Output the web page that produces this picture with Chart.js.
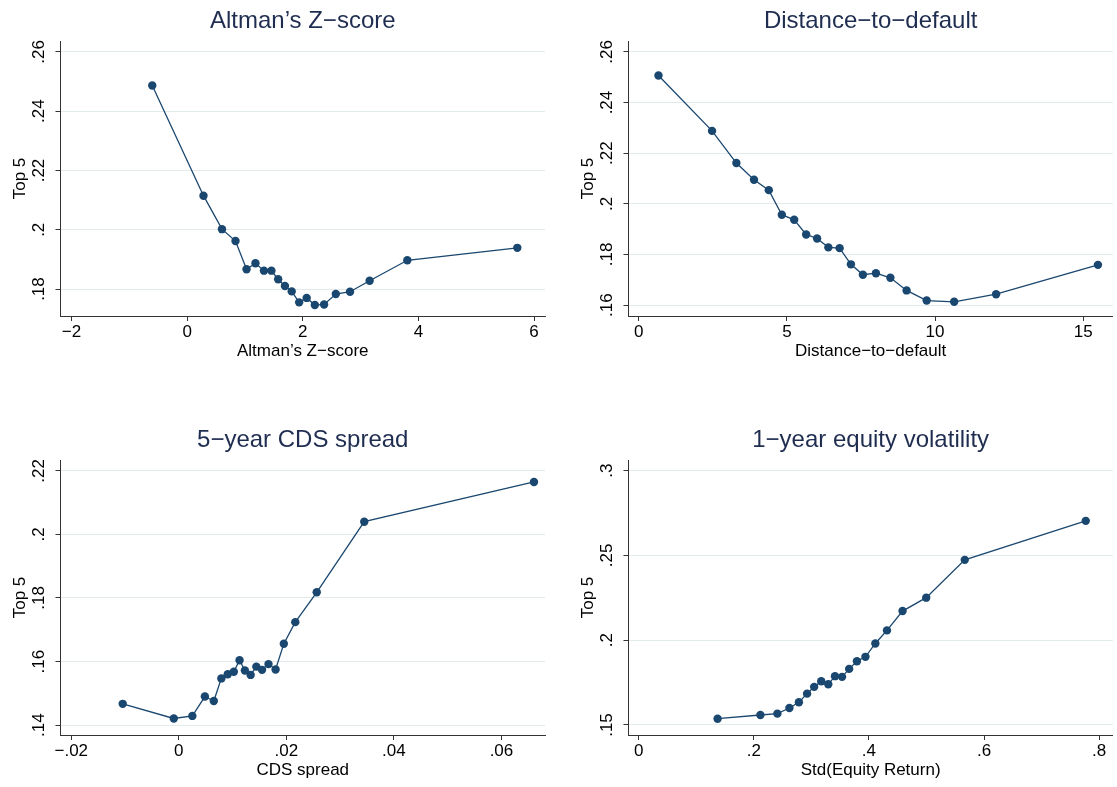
<!DOCTYPE html>
<html>
<head>
<meta charset="utf-8">
<script src="https://cdn.jsdelivr.net/npm/chart.js@4.4.1/dist/chart.umd.min.js"></script>
<style>
  html, body { margin: 0; padding: 0; background: #fff; }
  #wrap { position: relative; width: 1117px; height: 787px; overflow: hidden; }
  #wrap canvas { position: absolute; }
</style>
</head>
<body>
<div id="wrap">
  <canvas id="c1" width="556" height="362" style="left:0;top:0"></canvas>
  <canvas id="c2" width="549" height="362" style="left:568px;top:0"></canvas>
  <canvas id="c3" width="556" height="362" style="left:0;top:419px"></canvas>
  <canvas id="c4" width="549" height="362" style="left:568px;top:419px"></canvas>
</div>
<script>
// Top 5 share by bins of each risk measure
const zX = [-0.603, 0.283, 0.603, 0.837, 1.028, 1.182, 1.329, 1.458, 1.575, 1.692,
            1.809, 1.938, 2.068, 2.209, 2.369, 2.572, 2.818, 3.157, 3.809, 5.711];
const zY = [0.2487, 0.2115, 0.2002, 0.1962, 0.1867, 0.1887, 0.1862, 0.1862, 0.1833, 0.1810,
            0.1792, 0.1755, 0.1770, 0.1746, 0.1748, 0.1783, 0.1791, 0.1828, 0.1897, 0.1939];

const ddX = [0.666, 2.474, 3.295, 3.890, 4.389, 4.829, 5.246, 5.650, 6.019, 6.400,
             6.780, 7.161, 7.565, 8.005, 8.493, 9.040, 9.718, 10.646, 12.061, 15.499];
const ddY = [0.2507, 0.2288, 0.2161, 0.2095, 0.2054, 0.1957, 0.1937, 0.1879, 0.1863, 0.1828,
             0.1825, 0.1761, 0.1720, 0.1726, 0.1708, 0.1658, 0.1618, 0.1613, 0.1643, 0.1759];

const cdsX = [-0.01043, -0.00093, 0.00252, 0.00485, 0.00651, 0.00791, 0.0091, 0.01023, 0.0113, 0.01229,
              0.01336, 0.01442, 0.01548, 0.01668, 0.018, 0.01953, 0.02166, 0.02565, 0.03449, 0.06605];
const cdsY = [0.1467, 0.1421, 0.1429, 0.1490, 0.1476, 0.1547, 0.1560, 0.1568, 0.1604, 0.1572,
              0.1558, 0.1584, 0.1574, 0.1592, 0.1575, 0.1656, 0.1724, 0.1818, 0.2040, 0.2165];

const volX = [0.1370, 0.2114, 0.2409, 0.2618, 0.2783, 0.2925, 0.3048, 0.3171, 0.3293, 0.3410,
              0.3533, 0.3656, 0.3791, 0.3939, 0.4111, 0.4313, 0.4584, 0.4995, 0.5665, 0.7767];
const volY = [0.1537, 0.1559, 0.1567, 0.1600, 0.1634, 0.1685, 0.1725, 0.1758, 0.1740, 0.1788,
              0.1784, 0.1831, 0.1876, 0.1902, 0.1981, 0.2058, 0.2172, 0.2251, 0.2474, 0.2704];

// tick values
const zXTicks = [-2, 0, 2, 4, 6];
const zYTicks = [0.18, 0.2, 0.22, 0.24, 0.26];
const ddXTicks = [0, 5, 10, 15];
const ddYTicks = [0.16, 0.18, 0.2, 0.22, 0.24, 0.26];
const cdsXTicks = [-0.02, 0, 0.02, 0.04, 0.06];
const cdsYTicks = [0.14, 0.16, 0.18, 0.2, 0.22];
const volXTicks = [0, 0.2, 0.4, 0.6, 0.8];
const volYTicks = [0.15, 0.2, 0.25, 0.3];

const NAVY = "#1a476f";
const TITLE = "#1f2d50";
const FONT = "'Liberation Sans', Arial, Helvetica, sans-serif";

Chart.defaults.font.family = FONT;
Chart.defaults.color = "#000";

// Stata-style labels: ".26", "−2", "−.02"
function fmt(v) {
  let s = String(Number(v.toFixed(4)));
  let neg = s[0] === "-";
  if (neg) s = s.slice(1);
  if (s.startsWith("0.")) s = s.slice(1);
  return (neg ? "\u2212" : "") + s;
}

function panel(id, o) {
  const pts = o.x.map((v, i) => ({ x: v, y: o.y[i] }));
  return new Chart(document.getElementById(id), {
    type: "scatter",
    data: {
      datasets: [{
        data: pts,
        showLine: true,
        borderColor: NAVY,
        borderWidth: 1.3,
        pointRadius: 4.2,
        pointBackgroundColor: NAVY,
        pointBorderWidth: 0,
        clip: false,
      }],
    },
    options: {
      responsive: false,
      animation: false,
      layout: { padding: { left: 0, top: 0, bottom: 0, right: o.padR } },
      plugins: {
        legend: { display: false },
        tooltip: { enabled: false },
        title: {
          display: true, text: o.title, fullSize: false, color: TITLE,
          font: { size: 24, weight: "normal", lineHeight: 1.2 },
          padding: { top: 7.3, bottom: 4.9 },
        },
      },
      scales: {
        x: {
          type: "linear", min: o.xr[0], max: o.xr[1],
          afterBuildTicks: (s) => { s.ticks = o.xt.map(v => ({ value: v })); },
          afterFit: (s) => { s.height = 46; },
          ticks: { callback: (v) => fmt(v), font: { size: 17, lineHeight: 1.2 },
                   padding: 1, color: "#000", maxRotation: 0 },
          grid: { drawOnChartArea: false, drawTicks: true, tickLength: 5,
                  tickColor: "#333", tickWidth: 1 },
          border: { display: true, color: "#333", width: 1 },
          title: { display: true, text: o.xl, color: "#000",
                   font: { size: 17, lineHeight: 1.2 }, padding: { top: 0, bottom: 0 } },
        },
        y: {
          type: "linear", min: o.yr[0], max: o.yr[1],
          afterBuildTicks: (s) => { s.ticks = o.yt.map(v => ({ value: v })); },
          afterFit: (s) => { s.width = 60.5; },
          ticks: { callback: (v) => fmt(v), font: { size: 17, lineHeight: 1.0 },
                   padding: 4, color: "#000", minRotation: 90, maxRotation: 90,
                   crossAlign: "center" },
          grid: { color: "#e2eaec", lineWidth: 1, drawTicks: true, tickLength: 5,
                  tickColor: "#333", tickWidth: 1 },
          border: { display: true, color: "#333", width: 1 },
          title: { display: true, text: "Top 5", color: "#000",
                   font: { size: 17, lineHeight: 1.2 }, padding: { top: 10, bottom: 0 } },
        },
      },
    },
  });
}

panel("c1", { title: "Altman\u2019s Z\u2212score", xl: "Altman\u2019s Z\u2212score",
  x: zX, y: zY, xt: zXTicks, yt: zYTicks,
  xr: [-2.19, 6.19], yr: [0.1709, 0.2637], padR: 11 });

panel("c2", { title: "Distance\u2212to\u2212default", xl: "Distance\u2212to\u2212default",
  x: ddX, y: ddY, xt: ddXTicks, yt: ddYTicks,
  xr: [-0.346, 16.0], yr: [0.1557, 0.2643], padR: 1 });

panel("c3", { title: "5\u2212year CDS spread", xl: "CDS spread",
  x: cdsX, y: cdsY, xt: cdsXTicks, yt: cdsYTicks,
  xr: [-0.0220, 0.0681], yr: [0.1369, 0.2234], padR: 11 });

panel("c4", { title: "1\u2212year equity volatility", xl: "Std(Equity Return)",
  x: volX, y: volY, xt: volXTicks, yt: volYTicks,
  xr: [-0.0178, 0.8237], yr: [0.1441, 0.3063], padR: 1 });
</script>
</body>
</html>
